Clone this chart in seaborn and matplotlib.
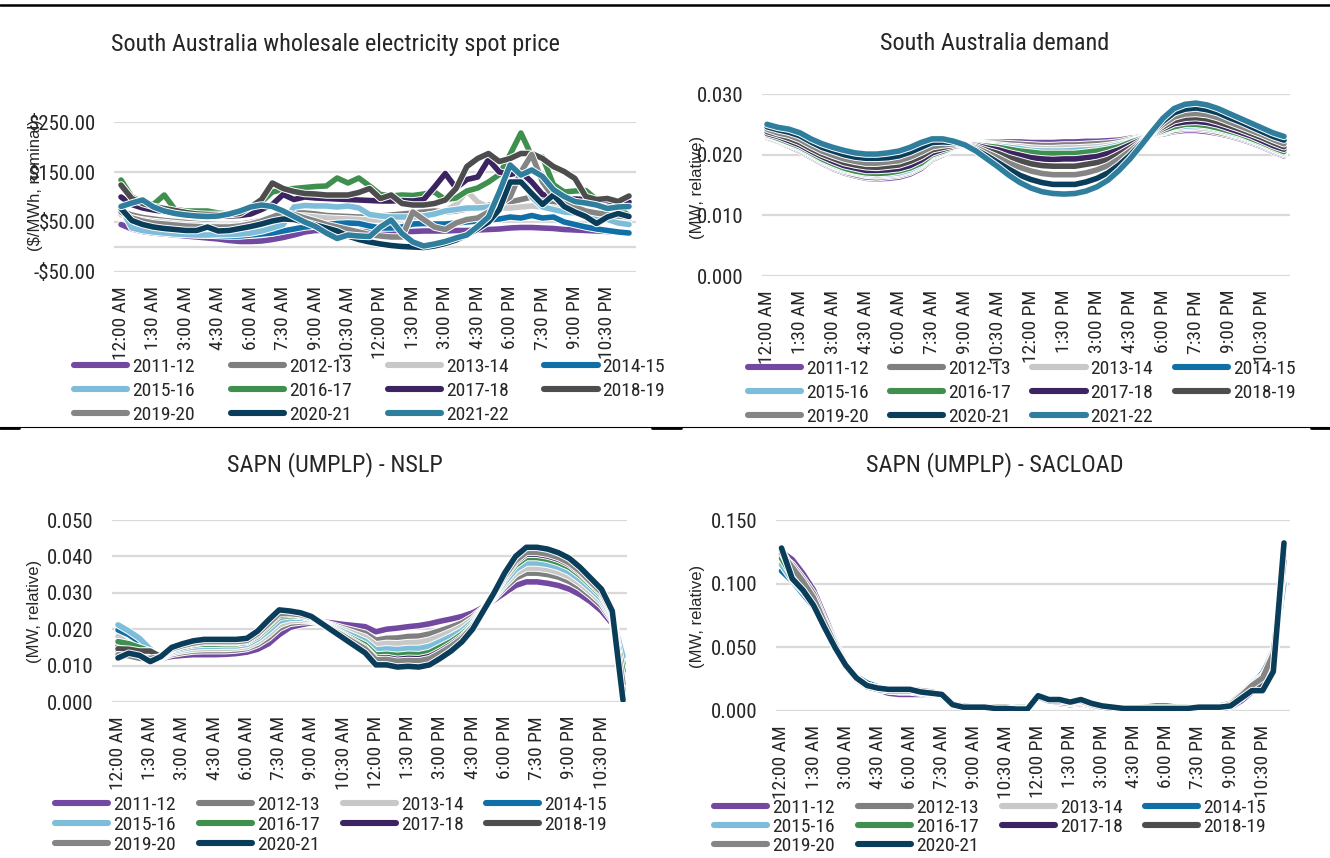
"""
Half-hourly profiles for South Australia, one line per financial year:
wholesale spot price, state demand, and the SAPN NSLP / SACLOAD profiles.
"""

import matplotlib
matplotlib.use("Agg")

import matplotlib.patheffects as pe
import matplotlib.pyplot as plt
import pandas as pd
import seaborn as sns
from matplotlib import font_manager
from matplotlib.lines import Line2D

FIG_W, FIG_H = 1330, 858

YEARS = ["2011-12", "2012-13", "2013-14", "2014-15", "2015-16", "2016-17",
         "2017-18", "2018-19", "2019-20", "2020-21", "2021-22"]
COLORS = ["#7248A0", "#7F7F7F", "#C8C8C8", "#0F6FA6", "#7DBDD9", "#3F8F4F",
          "#3B2461", "#4D4D4D", "#858585", "#0A3D5A", "#2F7E9E"]
PALETTE = dict(zip(YEARS, COLORS))

TICK_LABELS = ["12:00 AM", "1:30 AM", "3:00 AM", "4:30 AM", "6:00 AM", "7:30 AM",
               "9:00 AM", "10:30 AM", "12:00 PM", "1:30 PM", "3:00 PM", "4:30 PM",
               "6:00 PM", "7:30 PM", "9:00 PM", "10:30 PM"]

# --- spot price, $/MWh (48 half-hours) ---
PRICE_2011_12 = [45, 36, 31, 28, 26, 24, 22, 20, 18, 16, 13, 11, 11, 12, 15, 19,
                 24, 30, 33, 33, 32, 32, 31, 31, 31, 31, 31, 31, 32, 32, 32, 33,
                 33, 34, 35, 36, 38, 39, 39, 38, 37, 35, 34, 33, 32, 31, 30, 29]
PRICE_2012_13 = [72, 64, 59, 56, 53, 51, 49, 47, 46, 45, 45, 46, 49, 53, 58, 64,
                 68, 68, 66, 63, 62, 61, 60, 60, 62, 64, 66, 68, 70, 72, 70, 72,
                 76, 80, 84, 86, 90, 95, 100, 95, 88, 80, 75, 72, 68, 65, 62, 60]
PRICE_2013_14 = [65, 58, 54, 51, 49, 47, 45, 44, 43, 43, 43, 44, 46, 50, 55, 60,
                 62, 62, 60, 58, 57, 56, 55, 54, 54, 55, 57, 60, 62, 65, 72, 85,
                 112, 90, 80, 78, 78, 80, 82, 80, 78, 75, 72, 68, 64, 60, 58, 55]
PRICE_2014_15 = [75, 45, 35, 32, 30, 28, 26, 25, 24, 23, 22, 22, 24, 26, 28, 32,
                 36, 40, 42, 45, 47, 48, 47, 42, 38, 38, 40, 46, 47, 46, 46, 48,
                 50, 52, 54, 56, 60, 58, 63, 58, 60, 50, 45, 40, 36, 33, 30, 28]
PRICE_2015_16 = [78, 38, 33, 30, 28, 26, 25, 24, 24, 25, 25, 26, 28, 32, 38, 45,
                 80, 83, 82, 82, 80, 82, 78, 65, 62, 60, 60, 60, 62, 66, 72, 75,
                 78, 78, 80, 88, 110, 150, 100, 80, 75, 70, 68, 62, 58, 55, 48, 45]
PRICE_2016_17 = [134, 100, 90, 85, 104, 75, 72, 72, 72, 68, 66, 67, 77, 90, 110, 115,
                 117, 119, 121, 122, 138, 128, 138, 122, 105, 102, 104, 103, 106, 110, 95, 98,
                 112, 118, 130, 145, 185, 228, 182, 180, 125, 110, 112, 113, 95, 90, 80, 62]
PRICE_2017_18 = [100, 85, 78, 74, 71, 69, 67, 65, 64, 63, 62, 63, 66, 75, 85, 105,
                 95, 100, 98, 97, 96, 95, 94, 93, 92, 92, 93, 92, 95, 120, 147, 118,
                 135, 140, 175, 150, 145, 150, 130, 105, 100, 98, 96, 95, 95, 93, 88, 90]
PRICE_2018_19 = [124, 97, 87, 81, 77, 73, 69, 66, 65, 65, 65, 67, 80, 95, 128, 117,
                 111, 107, 106, 104, 104, 104, 109, 117, 97, 104, 87, 84, 84, 87, 94, 117,
                 161, 177, 187, 171, 177, 187, 187, 177, 161, 151, 137, 101, 95, 97, 91, 102]
PRICE_2019_20 = [70, 58, 52, 48, 46, 44, 42, 41, 40, 40, 40, 42, 46, 52, 60, 68,
                 65, 58, 52, 45, 40, 35, 30, 25, 22, 20, 20, 70, 55, 40, 35, 48,
                 55, 58, 70, 85, 100, 150, 185, 130, 100, 88, 80, 72, 68, 65, 62, 60]
PRICE_2020_21 = [77, 53, 45, 40, 37, 35, 33, 33, 40, 32, 33, 37, 41, 46, 52, 56,
                 55, 50, 44, 38, 32, 22, 15, 10, 6, 3, 1, 0, -1, 2, 7, 14,
                 24, 36, 50, 75, 130, 130, 107, 85, 104, 81, 70, 61, 47, 60, 67, 61]
PRICE_2021_22 = [81, 88, 94, 80, 72, 67, 64, 62, 61, 62, 66, 72, 80, 84, 81, 72,
                 61, 50, 41, 28, 17, 24, 22, 21, 40, 54, 27, 10, 2, 6, 11, 18,
                 24, 41, 60, 110, 164, 144, 154, 141, 115, 101, 91, 88, 84, 77, 80, 81]

# --- state demand, MW relative ---
DEMAND_2011_12 = [0.0228, 0.0222, 0.0214, 0.0206, 0.0196, 0.0186, 0.0177, 0.0170, 0.0165, 0.0161, 0.0160, 0.0161,
                  0.0163, 0.0168, 0.0177, 0.0192, 0.0200, 0.0210, 0.0216, 0.0219, 0.0220, 0.0221, 0.0221, 0.0221,
                  0.0220, 0.0220, 0.0220, 0.0221, 0.0221, 0.0222, 0.0222, 0.0223, 0.0224, 0.0227, 0.0229, 0.0232,
                  0.0234, 0.0238, 0.0240, 0.0240, 0.0238, 0.0235, 0.0231, 0.0226, 0.0220, 0.0213, 0.0205, 0.0198]
DEMAND_2012_13 = [0.0229, 0.0223, 0.0216, 0.0208, 0.0198, 0.0188, 0.0179, 0.0172, 0.0167, 0.0163, 0.0162, 0.0164,
                  0.0166, 0.0171, 0.0180, 0.0194, 0.0202, 0.0211, 0.0216, 0.0218, 0.0218, 0.0219, 0.0218, 0.0217,
                  0.0216, 0.0215, 0.0215, 0.0216, 0.0216, 0.0217, 0.0218, 0.0219, 0.0221, 0.0225, 0.0228, 0.0232,
                  0.0236, 0.0240, 0.0243, 0.0243, 0.0241, 0.0237, 0.0233, 0.0228, 0.0222, 0.0215, 0.0207, 0.0200]
DEMAND_2013_14 = [0.0231, 0.0225, 0.0217, 0.0210, 0.0200, 0.0190, 0.0181, 0.0174, 0.0170, 0.0166, 0.0165, 0.0166,
                  0.0168, 0.0173, 0.0182, 0.0196, 0.0203, 0.0211, 0.0216, 0.0217, 0.0217, 0.0216, 0.0214, 0.0213,
                  0.0211, 0.0210, 0.0210, 0.0211, 0.0211, 0.0212, 0.0213, 0.0215, 0.0218, 0.0223, 0.0227, 0.0233,
                  0.0237, 0.0243, 0.0245, 0.0245, 0.0243, 0.0240, 0.0235, 0.0230, 0.0224, 0.0217, 0.0209, 0.0202]
DEMAND_2014_15 = [0.0232, 0.0227, 0.0220, 0.0212, 0.0202, 0.0192, 0.0184, 0.0177, 0.0173, 0.0169, 0.0168, 0.0169,
                  0.0172, 0.0177, 0.0186, 0.0199, 0.0205, 0.0212, 0.0216, 0.0216, 0.0215, 0.0213, 0.0210, 0.0208,
                  0.0205, 0.0204, 0.0203, 0.0204, 0.0204, 0.0206, 0.0207, 0.0210, 0.0214, 0.0220, 0.0226, 0.0233,
                  0.0239, 0.0246, 0.0249, 0.0249, 0.0247, 0.0243, 0.0238, 0.0233, 0.0226, 0.0219, 0.0211, 0.0204]
DEMAND_2015_16 = [0.0232, 0.0226, 0.0219, 0.0211, 0.0201, 0.0191, 0.0183, 0.0176, 0.0172, 0.0168, 0.0167, 0.0168,
                  0.0170, 0.0175, 0.0184, 0.0198, 0.0204, 0.0212, 0.0216, 0.0217, 0.0215, 0.0214, 0.0212, 0.0210,
                  0.0207, 0.0206, 0.0206, 0.0206, 0.0207, 0.0208, 0.0209, 0.0212, 0.0216, 0.0221, 0.0227, 0.0233,
                  0.0238, 0.0245, 0.0247, 0.0248, 0.0246, 0.0242, 0.0237, 0.0232, 0.0225, 0.0218, 0.0210, 0.0203]
DEMAND_2016_17 = [0.0233, 0.0227, 0.0220, 0.0213, 0.0203, 0.0193, 0.0185, 0.0178, 0.0173, 0.0170, 0.0169, 0.0170,
                  0.0173, 0.0178, 0.0186, 0.0200, 0.0206, 0.0213, 0.0216, 0.0216, 0.0214, 0.0212, 0.0209, 0.0206,
                  0.0204, 0.0202, 0.0202, 0.0202, 0.0202, 0.0204, 0.0206, 0.0209, 0.0213, 0.0220, 0.0226, 0.0233,
                  0.0240, 0.0246, 0.0250, 0.0250, 0.0248, 0.0244, 0.0239, 0.0234, 0.0227, 0.0220, 0.0212, 0.0205]
DEMAND_2017_18 = [0.0235, 0.0230, 0.0223, 0.0216, 0.0206, 0.0197, 0.0189, 0.0182, 0.0178, 0.0174, 0.0174, 0.0175,
                  0.0177, 0.0182, 0.0191, 0.0203, 0.0209, 0.0214, 0.0216, 0.0215, 0.0211, 0.0208, 0.0203, 0.0199,
                  0.0195, 0.0193, 0.0192, 0.0193, 0.0193, 0.0195, 0.0197, 0.0202, 0.0208, 0.0216, 0.0224, 0.0234,
                  0.0243, 0.0251, 0.0254, 0.0255, 0.0253, 0.0249, 0.0243, 0.0237, 0.0231, 0.0223, 0.0215, 0.0209]
DEMAND_2018_19 = [0.0238, 0.0233, 0.0227, 0.0220, 0.0210, 0.0201, 0.0194, 0.0187, 0.0183, 0.0180, 0.0179, 0.0181,
                  0.0183, 0.0189, 0.0197, 0.0208, 0.0212, 0.0216, 0.0216, 0.0213, 0.0207, 0.0202, 0.0195, 0.0190,
                  0.0185, 0.0182, 0.0181, 0.0181, 0.0181, 0.0184, 0.0187, 0.0192, 0.0201, 0.0211, 0.0222, 0.0235,
                  0.0246, 0.0256, 0.0260, 0.0261, 0.0259, 0.0254, 0.0248, 0.0242, 0.0235, 0.0228, 0.0220, 0.0213]
DEMAND_2019_20 = [0.0242, 0.0236, 0.0232, 0.0225, 0.0215, 0.0206, 0.0199, 0.0193, 0.0189, 0.0186, 0.0186, 0.0188,
                  0.0190, 0.0196, 0.0204, 0.0213, 0.0216, 0.0218, 0.0216, 0.0211, 0.0203, 0.0195, 0.0186, 0.0179,
                  0.0173, 0.0169, 0.0167, 0.0167, 0.0167, 0.0170, 0.0175, 0.0182, 0.0193, 0.0206, 0.0220, 0.0236,
                  0.0250, 0.0262, 0.0267, 0.0268, 0.0266, 0.0261, 0.0254, 0.0247, 0.0240, 0.0233, 0.0225, 0.0218]
DEMAND_2020_21 = [0.0246, 0.0241, 0.0237, 0.0231, 0.0221, 0.0212, 0.0206, 0.0200, 0.0196, 0.0194, 0.0194, 0.0195,
                  0.0198, 0.0204, 0.0212, 0.0220, 0.0221, 0.0220, 0.0216, 0.0208, 0.0198, 0.0187, 0.0176, 0.0166,
                  0.0159, 0.0154, 0.0151, 0.0151, 0.0151, 0.0155, 0.0161, 0.0170, 0.0183, 0.0199, 0.0218, 0.0237,
                  0.0255, 0.0269, 0.0275, 0.0277, 0.0274, 0.0269, 0.0261, 0.0254, 0.0246, 0.0238, 0.0230, 0.0224]
DEMAND_2021_22 = [0.0250, 0.0245, 0.0242, 0.0236, 0.0226, 0.0218, 0.0212, 0.0207, 0.0203, 0.0201, 0.0201, 0.0203,
                  0.0206, 0.0212, 0.0220, 0.0226, 0.0226, 0.0222, 0.0216, 0.0206, 0.0193, 0.0180, 0.0166, 0.0154,
                  0.0145, 0.0139, 0.0136, 0.0135, 0.0136, 0.0140, 0.0147, 0.0158, 0.0174, 0.0193, 0.0215, 0.0238,
                  0.0260, 0.0276, 0.0283, 0.0285, 0.0282, 0.0276, 0.0268, 0.0260, 0.0252, 0.0244, 0.0236, 0.0230]

# --- SAPN NSLP, MW relative ---
NSLP_2011_12 = [0.0154, 0.0135, 0.0122, 0.0115, 0.0120, 0.0125, 0.0128, 0.0130, 0.0130, 0.0130, 0.0131, 0.0133,
                0.0137, 0.0145, 0.0160, 0.0185, 0.0205, 0.0212, 0.0218, 0.0220, 0.0217, 0.0213, 0.0210, 0.0207,
                0.0193, 0.0200, 0.0203, 0.0207, 0.0210, 0.0215, 0.0222, 0.0228, 0.0235, 0.0245, 0.0260, 0.0280,
                0.0300, 0.0320, 0.0330, 0.0330, 0.0326, 0.0320, 0.0310, 0.0295, 0.0275, 0.0250, 0.0215, 0.0100]
NSLP_2012_13 = [0.0140, 0.0128, 0.0122, 0.0118, 0.0121, 0.0131, 0.0136, 0.0140, 0.0141, 0.0141, 0.0141, 0.0143,
                0.0147, 0.0158, 0.0176, 0.0202, 0.0216, 0.0220, 0.0222, 0.0219, 0.0211, 0.0203, 0.0196, 0.0189,
                0.0170, 0.0175, 0.0176, 0.0180, 0.0181, 0.0187, 0.0196, 0.0206, 0.0217, 0.0234, 0.0257, 0.0285,
                0.0314, 0.0340, 0.0354, 0.0354, 0.0350, 0.0343, 0.0331, 0.0314, 0.0291, 0.0265, 0.0224, 0.0060]
NSLP_2013_14 = [0.0180, 0.0160, 0.0145, 0.0130, 0.0122, 0.0135, 0.0141, 0.0145, 0.0147, 0.0147, 0.0147, 0.0149,
                0.0152, 0.0165, 0.0186, 0.0212, 0.0223, 0.0225, 0.0225, 0.0218, 0.0208, 0.0198, 0.0188, 0.0178,
                0.0157, 0.0161, 0.0160, 0.0163, 0.0164, 0.0170, 0.0181, 0.0193, 0.0207, 0.0227, 0.0256, 0.0288,
                0.0322, 0.0352, 0.0368, 0.0368, 0.0364, 0.0356, 0.0344, 0.0325, 0.0301, 0.0274, 0.0229, 0.0090]
NSLP_2014_15 = [0.0198, 0.0185, 0.0165, 0.0140, 0.0123, 0.0140, 0.0147, 0.0153, 0.0155, 0.0155, 0.0156, 0.0156,
                0.0160, 0.0175, 0.0199, 0.0226, 0.0232, 0.0232, 0.0228, 0.0217, 0.0204, 0.0190, 0.0177, 0.0164,
                0.0138, 0.0141, 0.0139, 0.0142, 0.0142, 0.0147, 0.0161, 0.0175, 0.0193, 0.0218, 0.0254, 0.0292,
                0.0333, 0.0368, 0.0387, 0.0387, 0.0382, 0.0374, 0.0361, 0.0340, 0.0314, 0.0286, 0.0236, 0.0105]
NSLP_2015_16 = [0.0212, 0.0195, 0.0175, 0.0145, 0.0123, 0.0139, 0.0146, 0.0151, 0.0153, 0.0153, 0.0154, 0.0154,
                0.0158, 0.0173, 0.0196, 0.0222, 0.0230, 0.0230, 0.0227, 0.0217, 0.0205, 0.0192, 0.0180, 0.0167,
                0.0143, 0.0146, 0.0144, 0.0147, 0.0147, 0.0153, 0.0166, 0.0180, 0.0196, 0.0220, 0.0254, 0.0291,
                0.0330, 0.0364, 0.0382, 0.0382, 0.0378, 0.0370, 0.0357, 0.0336, 0.0311, 0.0283, 0.0234, 0.0125]
NSLP_2016_17 = [0.0166, 0.0160, 0.0150, 0.0140, 0.0124, 0.0143, 0.0150, 0.0157, 0.0159, 0.0159, 0.0160, 0.0160,
                0.0164, 0.0180, 0.0206, 0.0233, 0.0237, 0.0235, 0.0230, 0.0216, 0.0202, 0.0186, 0.0171, 0.0157,
                0.0129, 0.0131, 0.0128, 0.0131, 0.0130, 0.0136, 0.0151, 0.0166, 0.0186, 0.0213, 0.0253, 0.0294,
                0.0339, 0.0376, 0.0397, 0.0397, 0.0392, 0.0383, 0.0370, 0.0348, 0.0321, 0.0292, 0.0240, 0.0085]
NSLP_2017_18 = [0.0140, 0.0135, 0.0138, 0.0140, 0.0124, 0.0145, 0.0154, 0.0160, 0.0164, 0.0164, 0.0164, 0.0164,
                0.0167, 0.0185, 0.0212, 0.0239, 0.0241, 0.0238, 0.0232, 0.0216, 0.0199, 0.0183, 0.0166, 0.0149,
                0.0120, 0.0122, 0.0117, 0.0120, 0.0119, 0.0125, 0.0140, 0.0158, 0.0179, 0.0209, 0.0252, 0.0296,
                0.0344, 0.0384, 0.0406, 0.0406, 0.0401, 0.0392, 0.0378, 0.0355, 0.0327, 0.0298, 0.0243, 0.0040]
NSLP_2018_19 = [0.0146, 0.0145, 0.0140, 0.0140, 0.0124, 0.0148, 0.0157, 0.0164, 0.0168, 0.0168, 0.0168, 0.0168,
                0.0171, 0.0190, 0.0219, 0.0246, 0.0246, 0.0242, 0.0233, 0.0215, 0.0197, 0.0179, 0.0160, 0.0142,
                0.0111, 0.0112, 0.0107, 0.0109, 0.0107, 0.0113, 0.0130, 0.0149, 0.0172, 0.0204, 0.0251, 0.0298,
                0.0350, 0.0392, 0.0416, 0.0416, 0.0411, 0.0401, 0.0387, 0.0363, 0.0334, 0.0304, 0.0247, 0.0030]
NSLP_2019_20 = [0.0130, 0.0127, 0.0120, 0.0120, 0.0124, 0.0146, 0.0155, 0.0162, 0.0166, 0.0166, 0.0166, 0.0166,
                0.0169, 0.0188, 0.0215, 0.0243, 0.0243, 0.0240, 0.0232, 0.0216, 0.0198, 0.0181, 0.0163, 0.0146,
                0.0116, 0.0117, 0.0112, 0.0114, 0.0113, 0.0119, 0.0135, 0.0153, 0.0175, 0.0207, 0.0251, 0.0297,
                0.0347, 0.0388, 0.0411, 0.0411, 0.0406, 0.0397, 0.0382, 0.0359, 0.0330, 0.0301, 0.0245, 0.0050]
NSLP_2020_21 = [0.0121, 0.0134, 0.0128, 0.0111, 0.0125, 0.0150, 0.0160, 0.0168, 0.0172, 0.0172, 0.0172, 0.0172,
                0.0175, 0.0195, 0.0225, 0.0253, 0.0250, 0.0245, 0.0235, 0.0215, 0.0195, 0.0175, 0.0155, 0.0135,
                0.0102, 0.0102, 0.0096, 0.0098, 0.0096, 0.0102, 0.0120, 0.0140, 0.0165, 0.0200, 0.0250, 0.0300,
                0.0355, 0.0400, 0.0425, 0.0425, 0.0420, 0.0410, 0.0395, 0.0370, 0.0340, 0.0310, 0.0250, 0.0005]

# --- SAPN SACLOAD, MW relative ---
SAC_2011_12 = [0.125, 0.119, 0.108, 0.095, 0.075, 0.055, 0.038, 0.027, 0.021, 0.017, 0.014, 0.013,
               0.013, 0.013, 0.013, 0.012, 0.006, 0.004, 0.003, 0.003, 0.003, 0.003, 0.003, 0.003,
               0.012, 0.008, 0.006, 0.005, 0.006, 0.004, 0.002, 0.001, 0.001, 0.001, 0.001, 0.001,
               0.002, 0.002, 0.002, 0.002, 0.002, 0.002, 0.003, 0.008, 0.015, 0.022, 0.030, 0.110]
SAC_2012_13 = [0.122, 0.115, 0.104, 0.092, 0.072, 0.054, 0.037, 0.026, 0.020, 0.017, 0.016, 0.015,
               0.015, 0.014, 0.013, 0.012, 0.006, 0.004, 0.003, 0.003, 0.003, 0.003, 0.003, 0.003,
               0.011, 0.008, 0.007, 0.006, 0.007, 0.005, 0.003, 0.002, 0.002, 0.002, 0.002, 0.002,
               0.002, 0.002, 0.002, 0.002, 0.003, 0.003, 0.004, 0.010, 0.018, 0.025, 0.040, 0.120]
SAC_2013_14 = [0.118, 0.108, 0.100, 0.088, 0.070, 0.052, 0.036, 0.026, 0.020, 0.018, 0.016, 0.016,
               0.016, 0.015, 0.014, 0.012, 0.006, 0.004, 0.003, 0.003, 0.003, 0.003, 0.003, 0.003,
               0.011, 0.008, 0.007, 0.006, 0.007, 0.005, 0.003, 0.002, 0.002, 0.002, 0.002, 0.003,
               0.003, 0.003, 0.003, 0.003, 0.003, 0.004, 0.006, 0.014, 0.022, 0.030, 0.048, 0.110]
SAC_2014_15 = [0.110, 0.102, 0.092, 0.082, 0.066, 0.050, 0.037, 0.027, 0.022, 0.019, 0.017, 0.016,
               0.016, 0.015, 0.014, 0.012, 0.006, 0.004, 0.003, 0.003, 0.003, 0.003, 0.003, 0.003,
               0.011, 0.008, 0.007, 0.006, 0.007, 0.005, 0.003, 0.002, 0.002, 0.002, 0.003, 0.003,
               0.003, 0.003, 0.003, 0.003, 0.004, 0.004, 0.006, 0.012, 0.020, 0.030, 0.045, 0.100]
SAC_2015_16 = [0.115, 0.103, 0.094, 0.084, 0.067, 0.051, 0.036, 0.026, 0.020, 0.018, 0.017, 0.016,
               0.016, 0.015, 0.014, 0.012, 0.006, 0.004, 0.003, 0.003, 0.003, 0.003, 0.003, 0.003,
               0.011, 0.008, 0.007, 0.006, 0.007, 0.005, 0.003, 0.002, 0.002, 0.002, 0.003, 0.003,
               0.003, 0.003, 0.003, 0.003, 0.004, 0.004, 0.006, 0.013, 0.021, 0.028, 0.042, 0.100]
SAC_2016_17 = [0.120, 0.106, 0.096, 0.085, 0.067, 0.050, 0.035, 0.025, 0.020, 0.018, 0.016, 0.016,
               0.016, 0.015, 0.014, 0.012, 0.006, 0.004, 0.003, 0.003, 0.003, 0.003, 0.003, 0.003,
               0.011, 0.008, 0.007, 0.006, 0.007, 0.005, 0.003, 0.002, 0.002, 0.002, 0.003, 0.004,
               0.004, 0.003, 0.003, 0.003, 0.003, 0.004, 0.006, 0.013, 0.020, 0.027, 0.038, 0.115]
SAC_2017_18 = [0.125, 0.108, 0.097, 0.085, 0.067, 0.050, 0.035, 0.025, 0.019, 0.017, 0.016, 0.016,
               0.016, 0.015, 0.014, 0.012, 0.005, 0.004, 0.003, 0.003, 0.003, 0.003, 0.002, 0.002,
               0.012, 0.008, 0.007, 0.006, 0.008, 0.005, 0.003, 0.002, 0.002, 0.002, 0.002, 0.002,
               0.002, 0.002, 0.002, 0.003, 0.003, 0.003, 0.005, 0.011, 0.018, 0.024, 0.033, 0.120]
SAC_2018_19 = [0.126, 0.112, 0.100, 0.087, 0.068, 0.051, 0.036, 0.026, 0.020, 0.018, 0.017, 0.017,
               0.017, 0.015, 0.014, 0.013, 0.005, 0.004, 0.003, 0.003, 0.003, 0.002, 0.002, 0.002,
               0.012, 0.009, 0.008, 0.007, 0.008, 0.005, 0.003, 0.002, 0.002, 0.002, 0.002, 0.002,
               0.002, 0.002, 0.002, 0.003, 0.003, 0.003, 0.004, 0.010, 0.017, 0.021, 0.030, 0.125]
SAC_2019_20 = [0.124, 0.113, 0.102, 0.089, 0.070, 0.052, 0.036, 0.026, 0.020, 0.018, 0.017, 0.017,
               0.017, 0.016, 0.015, 0.013, 0.005, 0.004, 0.003, 0.003, 0.003, 0.003, 0.002, 0.002,
               0.011, 0.008, 0.008, 0.007, 0.008, 0.005, 0.003, 0.002, 0.002, 0.002, 0.002, 0.002,
               0.002, 0.002, 0.002, 0.003, 0.003, 0.003, 0.005, 0.012, 0.020, 0.026, 0.045, 0.118]
SAC_2020_21 = [0.128, 0.104, 0.095, 0.083, 0.066, 0.050, 0.036, 0.026, 0.020, 0.018, 0.017, 0.017,
               0.017, 0.015, 0.014, 0.013, 0.005, 0.003, 0.003, 0.003, 0.002, 0.002, 0.0015, 0.0015,
               0.012, 0.009, 0.009, 0.007, 0.009, 0.006, 0.004, 0.003, 0.002, 0.002, 0.002, 0.002,
               0.002, 0.002, 0.002, 0.003, 0.003, 0.003, 0.004, 0.010, 0.016, 0.016, 0.031, 0.132]

PRICE = [PRICE_2011_12, PRICE_2012_13, PRICE_2013_14, PRICE_2014_15, PRICE_2015_16, PRICE_2016_17,
         PRICE_2017_18, PRICE_2018_19, PRICE_2019_20, PRICE_2020_21, PRICE_2021_22]
DEMAND = [DEMAND_2011_12, DEMAND_2012_13, DEMAND_2013_14, DEMAND_2014_15, DEMAND_2015_16, DEMAND_2016_17,
          DEMAND_2017_18, DEMAND_2018_19, DEMAND_2019_20, DEMAND_2020_21, DEMAND_2021_22]
NSLP = [NSLP_2011_12, NSLP_2012_13, NSLP_2013_14, NSLP_2014_15, NSLP_2015_16, NSLP_2016_17,
        NSLP_2017_18, NSLP_2018_19, NSLP_2019_20, NSLP_2020_21]
SACLOAD = [SAC_2011_12, SAC_2012_13, SAC_2013_14, SAC_2014_15, SAC_2015_16, SAC_2016_17,
           SAC_2017_18, SAC_2018_19, SAC_2019_20, SAC_2020_21]

GRID = "#D9D9D9"

sns.set_theme(style="white")
_names = {f.name for f in font_manager.fontManager.ttflist}
# the source is set in Arial Narrow; take the closest condensed face available
NARROW = next((n for n in ["Liberation Sans Narrow", "Arial Narrow", "Roboto Condensed",
                           "Archivo Narrow", "PT Sans Narrow", "Open Sans Condensed"]
               if n in _names), "Liberation Sans")
plt.rcParams["font.family"] = ["Liberation Sans", "DejaVu Sans"]


def to_long(series):
    rows = []
    for year, values in zip(YEARS, series):
        for slot, v in enumerate(values):
            rows.append({"year": year, "slot": slot, "value": v})
    return pd.DataFrame(rows)


def px_rect(left, top, right, bottom):
    return [left / FIG_W, 1 - bottom / FIG_H, (right - left) / FIG_W, (bottom - top) / FIG_H]


def draw_panel(fig, series, box, first_last, ylim, yticks, fmt, title, title_xy,
               ylabel, ylabel_xy, legend_xy, colspacing, rowspacing, zero_line=False):
    left, top, right, bottom = box
    x0, x1 = first_last
    step = (x1 - x0) / 47
    ax = fig.add_axes(px_rect(left, top, right, bottom))
    years = YEARS[:len(series)]
    df = to_long(series)
    sns.lineplot(data=df, x="slot", y="value", hue="year", hue_order=years,
                 palette=PALETTE, lw=4.0, estimator=None, legend=False, ax=ax)
    for line in ax.lines:
        line.set_solid_joinstyle("round")
        line.set_solid_capstyle("round")
        line.set_path_effects([pe.Stroke(linewidth=5.4, foreground="white"), pe.Normal()])

    ax.set_xlim(-(x0 - left) / step, 47 + (right - x1) / step)
    ax.set_ylim(*ylim)
    ax.set_yticks(yticks)
    ax.set_yticklabels([fmt(v) for v in yticks], fontfamily=NARROW, fontsize=15)
    ax.set_xticks(range(0, 48, 3))
    ax.set_xticklabels(TICK_LABELS, rotation=90, fontfamily=NARROW, fontsize=14,
                       va="top", ha="center")
    ax.tick_params(axis="y", length=0, pad=13)
    ax.tick_params(axis="x", length=0, pad=10)
    ax.yaxis.grid(True, color=GRID, lw=1.6)
    ax.xaxis.grid(False)
    ax.set_axisbelow(True)
    if zero_line:
        ax.axhline(0, color=GRID, lw=1.6, zorder=0.5)
    for s in ax.spines.values():
        s.set_visible(False)
    ax.set_xlabel("")
    ax.set_ylabel("")

    fig.text(title_xy[0] / FIG_W, 1 - title_xy[1] / FIG_H, title, ha="center", va="center",
             fontfamily=NARROW, fontsize=17.5)
    fig.text(ylabel_xy[0] / FIG_W, 1 - ylabel_xy[1] / FIG_H, ylabel, rotation=90,
             ha="center", va="center", fontsize=12)

    handles = [Line2D([], [], color=PALETTE[y], lw=4.4, solid_capstyle="round") for y in years]
    # matplotlib fills legend columns first; reorder so entries read across rows
    order = [i for c in range(4) for i in range(c, len(years), 4)]
    ax.legend([handles[i] for i in order], [years[i] for i in order], ncol=4,
              loc="upper left", bbox_to_anchor=(legend_xy[0] / FIG_W, 1 - legend_xy[1] / FIG_H),
              bbox_transform=fig.transFigure, frameon=False, borderpad=0, borderaxespad=0,
              handlelength=2.73, handletextpad=0.26, columnspacing=colspacing,
              labelspacing=rowspacing, prop={"family": NARROW, "size": 14})
    return ax


def price_fmt(v):
    return f"-${abs(v):.2f}" if v < 0 else f"${v:.2f}"


def main():
    fig = plt.figure(figsize=(FIG_W / 100, FIG_H / 100), dpi=100)

    draw_panel(fig, PRICE, (114, 122, 636, 272), (121, 629), (-50, 250), [-50, 50, 150, 250],
               price_fmt, "South Australia wholesale electricity spot price", (335, 44),
               "($/MWh, nominal)", (36, 185), (74, 358), 1.85, 0.3, zero_line=True)
    draw_panel(fig, DEMAND, (762, 94, 1290, 276), (767, 1284), (0, 0.030), [0, 0.01, 0.02, 0.03],
               lambda v: f"{v:.3f}", "South Australia demand", (995, 43),
               "(MW, relative)", (697, 187), (748, 360), 1.1, 0.3)
    draw_panel(fig, NSLP, (112, 520, 627, 702), (118, 623), (0, 0.050),
               [0, 0.01, 0.02, 0.03, 0.04, 0.05],
               lambda v: f"{v:.3f}", "SAPN (UMPLP) - NSLP", (335, 465),
               "(MW, relative)", (35, 611), (55, 796), 1.18, 0.1)
    draw_panel(fig, SACLOAD, (776, 520, 1290, 711), (781.5, 1284), (0, 0.150), [0, 0.05, 0.10, 0.15],
               lambda v: f"{v:.3f}", "SAPN (UMPLP) - SACLOAD", (995, 465),
               "(MW, relative)", (697, 616), (714, 799), 1.18, 0.05)

    # frame rules between the panels
    def hline(y, x0, x1, lw):
        fig.add_artist(Line2D([x0 / FIG_W, x1 / FIG_W], [1 - y / FIG_H] * 2,
                              transform=fig.transFigure, color="black", lw=lw))

    hline(5, 0, FIG_W, 1.8)
    hline(427, 0, FIG_W, 0.8)
    for x0, x1 in [(0, 19), (652, 681), (1311, 1330)]:
        hline(428, x0, x1, 2.0)

    fig.savefig("out.png", dpi=100)
    plt.close(fig)


if __name__ == "__main__":
    main()
